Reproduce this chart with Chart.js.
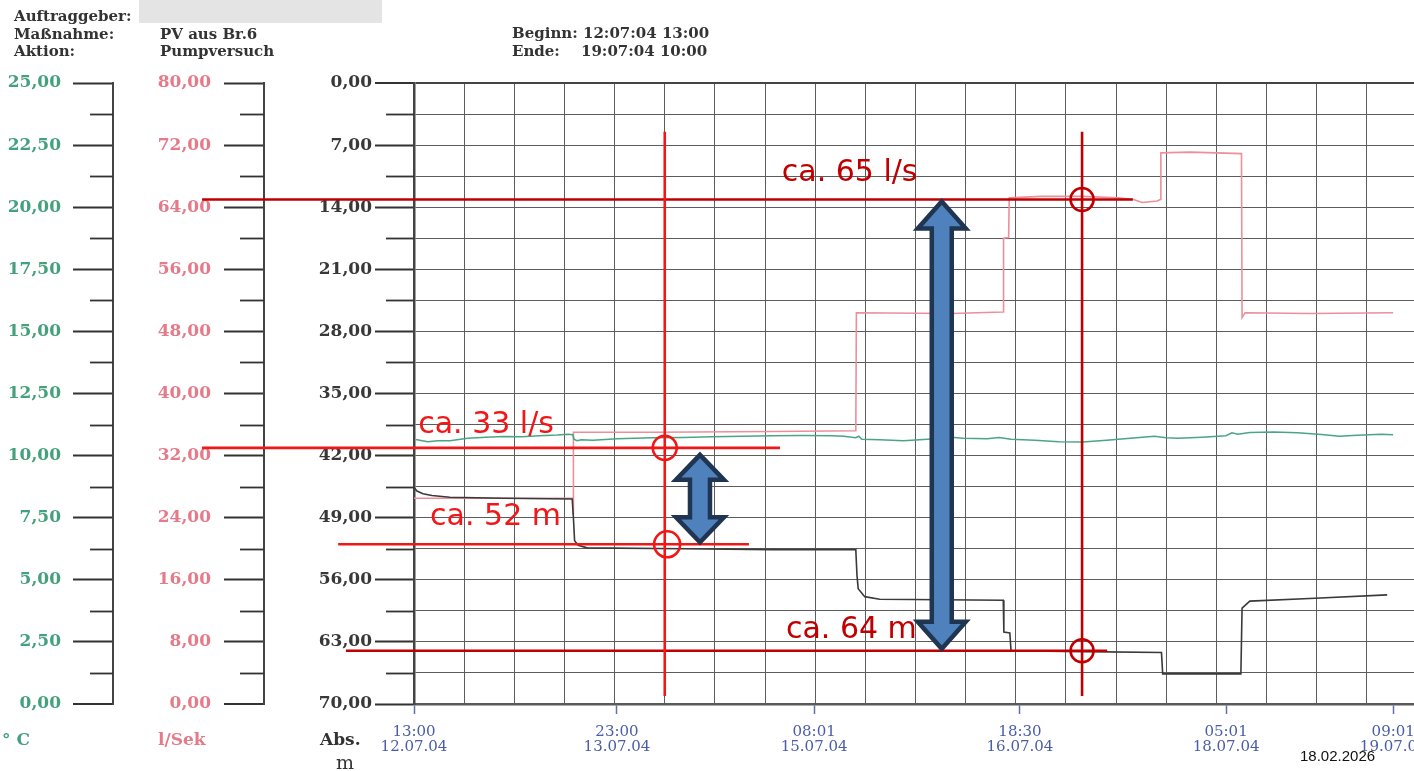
<!DOCTYPE html>
<html lang="de">
<head>
<meta charset="utf-8">
<title>PV aus Br.6 – Pumpversuch</title>
<script src="https://cdn.jsdelivr.net/npm/chart.js@4.4.1/dist/chart.umd.min.js"></script>
<style>
  html, body { margin: 0; padding: 0; width: 1414px; height: 771px; overflow: hidden; background: #fff; }
  #wrap { position: relative; width: 1414px; height: 771px; overflow: hidden; }
  #plot { position: absolute; left: 0; top: 0; }
  .t { position: absolute; white-space: pre; line-height: 1; transform: translateY(-50%); }
  .hdr { font: bold 15px "DejaVu Serif", serif; color: #333; }
  .unit { font: bold 17px "DejaVu Serif", serif; }
</style>
</head>
<body>
<div id="wrap">
  <canvas id="plot" width="1440" height="771"></canvas>

  <div style="position:absolute;left:139px;top:0;width:243px;height:23px;background:#e4e4e4"></div>
  <div class="t hdr" style="left:14px;top:16px">Auftraggeber:</div>
  <div class="t hdr" style="left:14px;top:34px">Maßnahme:</div>
  <div class="t hdr" style="left:14px;top:51px">Aktion:</div>
  <div class="t hdr" style="left:160px;top:34px">PV aus Br.6</div>
  <div class="t hdr" style="left:160px;top:51px">Pumpversuch</div>
  <div class="t hdr" style="left:512px;top:33px">Beginn: 12:07:04 13:00</div>
  <div class="t hdr" style="left:512px;top:51px">Ende:</div>
  <div class="t hdr" style="left:581px;top:51px">19:07:04 10:00</div>

  <div class="t unit" style="left:2px;top:739px;color:#45a07e">° C</div>
  <div class="t unit" style="left:158px;top:739px;color:#e57a88">l/Sek</div>
  <div class="t unit" style="left:320px;top:739px;color:#333">Abs.</div>
  <div class="t" style="left:336px;top:762px;font:19px 'DejaVu Serif',serif;color:#333">m</div>

  <div class="t" style="left:1300px;top:755px;font:15px 'Liberation Sans',sans-serif;color:#111">18.02.2026</div>
</div>

<script>
// Zeitachse: Stunden ab Beginn (12.07.04 13:00)
const TIME_MAX = 168;
const GRID_STEP_H = 8.4;
const TIME_TICKS = [0, 34, 67.02, 101.5, 136.02, 164.02];
const TIME_LABELS = [
  ['13:00', '12.07.04'],
  ['23:00', '13.07.04'],
  ['08:01', '15.07.04'],
  ['18:30', '16.07.04'],
  ['05:01', '18.07.04'],
  ['09:01', '19.07.04']
];

// Abstich in m
const LEVEL_T = [0, 0.5, 1.5, 3, 6, 15, 26.5, 26.7, 26.9, 27.5, 29, 45, 60, 74, 74.2, 74.4, 75.5, 78, 98.7, 98.8, 99.8, 100.0, 112, 125.2, 125.4, 138.5, 138.7, 140, 150, 163];
const LEVEL_M = [45.6, 46.0, 46.3, 46.5, 46.7, 46.8, 46.9, 49.0, 51.6, 52.1, 52.4, 52.5, 52.6, 52.6, 55.5, 57.0, 57.9, 58.2, 58.3, 61.9, 62.0, 64.0, 64.1, 64.2, 66.6, 66.6, 59.2, 58.4, 58.1, 57.7];

// Förderrate in l/s
const FLOW_T = [0, 26.6, 26.65, 26.7, 40, 60, 74.0, 74.1, 90, 98.7, 98.75, 99.6, 99.7, 105, 112, 118, 120.5, 122, 124.5, 125.0, 125.1, 130, 138.6, 138.7, 139.2, 150, 164];
const FLOW_LS = [26.5, 26.5, 24.5, 35.0, 35.0, 35.1, 35.2, 50.4, 50.3, 50.5, 60.0, 60.1, 65.2, 65.4, 65.4, 65.2, 65.0, 64.6, 64.8, 65.0, 71.0, 71.1, 70.9, 49.8, 50.4, 50.3, 50.4];

// Wassertemperatur in °C
const TEMP_T = [0.3, 2.3, 4, 6, 9, 12, 15, 18, 21, 24, 25.8, 26.6, 26.8, 27.3, 28, 30, 34, 40, 45, 50, 55, 60, 65, 70, 72, 74, 74.5, 75, 78, 82, 86, 90, 92, 96, 98, 100, 104, 108, 112, 116, 120, 124, 126, 128, 132, 136, 137, 138, 140, 144, 148, 152, 155, 158, 162, 164];
const TEMP_C = [10.65, 10.56, 10.60, 10.60, 10.70, 10.74, 10.77, 10.76, 10.80, 10.83, 10.86, 10.84, 10.66, 10.60, 10.64, 10.62, 10.68, 10.72, 10.73, 10.76, 10.78, 10.80, 10.81, 10.80, 10.78, 10.72, 10.78, 10.66, 10.64, 10.60, 10.66, 10.74, 10.70, 10.68, 10.73, 10.66, 10.62, 10.56, 10.55, 10.62, 10.70, 10.78, 10.72, 10.70, 10.74, 10.80, 10.92, 10.86, 10.93, 10.95, 10.92, 10.85, 10.78, 10.82, 10.86, 10.84];

// Achsen: [min, max, Beschriftungsschritt]
const TEMP_AXIS = [0, 25, 2.5];
const FLOW_AXIS = [0, 80, 8];
const LEVEL_AXIS = [0, 70, 7];

// Markierte Werte
const MARK_FLOW_HIGH = 65;
const MARK_FLOW_LOW = 33;
const MARK_LEVEL_LOW = 52;
const MARK_LEVEL_HIGH = 64;

const RED = '#f21616';
const DARK_RED = '#c00000';

const zip = (xs, ys) => xs.map((x, i) => ({ x, y: ys[i] }));
const fmt = v => v.toFixed(2).replace('.', ',');

function halfSteps(axis) {
  const [min, max, step] = axis;
  const out = [];
  const n = Math.round((max - min) / (step / 2));
  for (let i = 0; i <= n; i++) out.push({ value: min + i * step / 2 });
  return out;
}
const isMajor = (axis, v) => Math.abs((v - axis[0]) / axis[2] - Math.round((v - axis[0]) / axis[2])) < 1e-6;

function yAxis(axis, opts) {
  return {
    type: 'linear',
    position: 'left',
    min: axis[0],
    max: axis[1],
    reverse: !!opts.reverse,
    weight: opts.weight,
    afterBuildTicks: s => { s.ticks = halfSteps(axis); },
    afterFit: s => { s.width = opts.width; },
    ticks: {
      autoSkip: false,
      padding: opts.padding,
      color: opts.color,
      font: { family: 'DejaVu Serif', size: 17, weight: 'bold' },
      callback: v => isMajor(axis, v) ? fmt(v) : ''
    },
    grid: {
      drawOnChartArea: !!opts.chartGrid,
      drawTicks: true,
      tickLength: opts.tickLength,
      tickWidth: 1.8,
      tickColor: c => isMajor(axis, c.tick.value) ? '#333' : 'rgba(0,0,0,0)',
      color: c => (c.tick && c.tick.value === axis[0]) ? '#444' : '#5c5c5c',
      lineWidth: c => (c.tick && c.tick.value === axis[0]) ? 2 : 1
    },
    border: { display: true, color: '#444', width: opts.borderWidth || 2 },
    minorTickLength: opts.minorLength
  };
}

// kurze Zwischenstriche an den Skalen
const minorTicks = {
  id: 'minorTicks',
  afterDraw(chart) {
    const ctx = chart.ctx;
    ctx.save();
    ctx.strokeStyle = '#333';
    ctx.lineWidth = 1.8;
    [['yT', TEMP_AXIS], ['yQ', FLOW_AXIS], ['yAbs', LEVEL_AXIS]].forEach(([id, axis]) => {
      const s = chart.scales[id];
      const len = s.options.minorTickLength;
      s.ticks.forEach(t => {
        if (isMajor(axis, t.value)) return;
        const y = Math.round(s.getPixelForValue(t.value)) + 0.5;
        ctx.beginPath();
        ctx.moveTo(s.right - len, y);
        ctx.lineTo(s.right, y);
        ctx.stroke();
      });
    });
    ctx.restore();
  }
};

// rote Hilfslinien, Beschriftungen und Pfeile
const markings = {
  hLines: [
    { axis: 'yQ', value: MARK_FLOW_HIGH, t0: -35.5, t1: 120.4, color: DARK_RED },
    { axis: 'yQ', value: MARK_FLOW_LOW, t0: -35.5, t1: 61.3, color: RED },
    { axis: 'yAbs', value: MARK_LEVEL_LOW, t0: -12.7, t1: 56.1, color: RED },
    { axis: 'yAbs', value: MARK_LEVEL_HIGH, t0: -11.4, t1: 116.1, color: DARK_RED }
  ],
  vLines: [
    { t: 42.0, m0: 5.5, m1: 69.1, color: RED },
    { t: 111.9, m0: 5.5, m1: 69.1, color: DARK_RED }
  ],
  texts: [
    { text: 'ca. 65 l/s', t: 61.6, axis: 'yQ', value: MARK_FLOW_HIGH, dy: -26, color: DARK_RED },
    { text: 'ca. 33 l/s', t: 0.7, axis: 'yQ', value: MARK_FLOW_LOW, dy: -23, color: RED },
    { text: 'ca. 52 m', t: 2.7, axis: 'yAbs', value: MARK_LEVEL_LOW, dy: -27, color: RED },
    { text: 'ca. 64 m', t: 62.3, axis: 'yAbs', value: MARK_LEVEL_HIGH, dy: -21, color: DARK_RED }
  ],
  circles: [
    { t: 42.0, axis: 'yQ', value: MARK_FLOW_LOW, r: 12, color: RED },
    { t: 42.4, axis: 'yAbs', value: MARK_LEVEL_LOW, r: 13, color: RED },
    { t: 111.9, axis: 'yQ', value: MARK_FLOW_HIGH, r: 11.5, color: DARK_RED },
    { t: 111.9, axis: 'yAbs', value: MARK_LEVEL_HIGH, r: 11.5, color: DARK_RED }
  ],
  arrows: [
    { t: 47.9, top: ['yQ', MARK_FLOW_LOW, 7], bottom: ['yAbs', MARK_LEVEL_LOW, -2], head: 25 },
    { t: 88.4, top: ['yQ', MARK_FLOW_HIGH, 2], bottom: ['yAbs', MARK_LEVEL_HIGH, -2], head: 27 }
  ]
};

function drawArrow(ctx, cx, top, bottom, hl) {
  const hw = 24, sw = 10;
  ctx.beginPath();
  ctx.moveTo(cx, top);
  ctx.lineTo(cx + hw, top + hl);
  ctx.lineTo(cx + sw, top + hl);
  ctx.lineTo(cx + sw, bottom - hl);
  ctx.lineTo(cx + hw, bottom - hl);
  ctx.lineTo(cx, bottom);
  ctx.lineTo(cx - hw, bottom - hl);
  ctx.lineTo(cx - sw, bottom - hl);
  ctx.lineTo(cx - sw, top + hl);
  ctx.lineTo(cx - hw, top + hl);
  ctx.closePath();
  ctx.fillStyle = '#4f81bd';
  ctx.fill();
  ctx.lineJoin = 'miter';
  ctx.lineWidth = 4.5;
  ctx.strokeStyle = '#1f3552';
  ctx.stroke();
}

const markingsPlugin = {
  id: 'markings',
  afterDraw(chart) {
    const ctx = chart.ctx;
    const sx = chart.scales.x;
    const py = (id, v) => chart.scales[id].getPixelForValue(v);
    ctx.save();
    ctx.lineCap = 'butt';
    ctx.lineWidth = 2.6;
    markings.hLines.forEach(l => {
      const y = py(l.axis, l.value);
      ctx.strokeStyle = l.color;
      ctx.beginPath();
      ctx.moveTo(sx.getPixelForValue(l.t0), y);
      ctx.lineTo(sx.getPixelForValue(l.t1), y);
      ctx.stroke();
    });
    markings.vLines.forEach(l => {
      const x = sx.getPixelForValue(l.t);
      ctx.strokeStyle = l.color;
      ctx.beginPath();
      ctx.moveTo(x, py('yAbs', l.m0));
      ctx.lineTo(x, py('yAbs', l.m1));
      ctx.stroke();
    });
    ctx.font = '30px "DejaVu Sans", sans-serif';
    ctx.textBaseline = 'middle';
    ctx.textAlign = 'left';
    markings.texts.forEach(tx => {
      ctx.fillStyle = tx.color;
      ctx.fillText(tx.text, sx.getPixelForValue(tx.t), py(tx.axis, tx.value) + tx.dy);
    });
    markings.circles.forEach(c => {
      ctx.strokeStyle = c.color;
      ctx.beginPath();
      ctx.arc(sx.getPixelForValue(c.t), py(c.axis, c.value), c.r, 0, Math.PI * 2);
      ctx.stroke();
    });
    markings.arrows.forEach(a => {
      const top = py(a.top[0], a.top[1]) + a.top[2];
      const bottom = py(a.bottom[0], a.bottom[1]) + a.bottom[2];
      drawArrow(ctx, sx.getPixelForValue(a.t), top, bottom, a.head);
    });
    ctx.restore();
  }
};

new Chart(document.getElementById('plot'), {
  type: 'line',
  data: {
    datasets: [
      { label: 'Abstich', data: zip(LEVEL_T, LEVEL_M), yAxisID: 'yAbs', borderColor: '#3a3a3a', borderWidth: 1.6 },
      { label: 'Temperatur', data: zip(TEMP_T, TEMP_C), yAxisID: 'yT', borderColor: '#4aa682', borderWidth: 1.6 },
      { label: 'Förderrate', data: zip(FLOW_T, FLOW_LS), yAxisID: 'yQ', borderColor: '#ec8f9b', borderWidth: 1.6 }
    ]
  },
  options: {
    responsive: false,
    animation: false,
    devicePixelRatio: 1,
    events: [],
    layout: { padding: { left: 7, top: 83, right: 23, bottom: 6 } },
    elements: { point: { radius: 0 }, line: { tension: 0 } },
    plugins: { legend: { display: false }, tooltip: { enabled: false } },
    scales: {
      x: {
        type: 'linear',
        position: 'bottom',
        min: 0,
        max: TIME_MAX,
        weight: 2,
        afterBuildTicks: s => { s.ticks = TIME_TICKS.map(v => ({ value: v })); },
        afterFit: s => { s.paddingLeft = 0; s.paddingRight = 0; },
        ticks: {
          autoSkip: false,
          maxRotation: 0,
          padding: 10.5,
          color: '#4b5ca8',
          font: { family: 'DejaVu Serif', size: 15, lineHeight: 1 },
          callback: (v, i) => TIME_LABELS[i]
        },
        grid: { drawOnChartArea: false, drawTicks: true, tickLength: 10, tickWidth: 1.5, tickColor: '#5f6fb0' },
        border: { display: true, color: '#5a5a5a', width: 2.5 }
      },
      xg: {
        type: 'linear',
        position: 'bottom',
        min: 0,
        max: TIME_MAX,
        weight: 1,
        afterBuildTicks: s => {
          const t = [];
          for (let i = 0; i * GRID_STEP_H <= TIME_MAX + 1e-9; i++) t.push({ value: i * GRID_STEP_H });
          s.ticks = t;
        },
        afterFit: s => { s.paddingLeft = 0; s.paddingRight = 0; },
        ticks: { display: false },
        grid: { drawTicks: false, color: '#5c5c5c', lineWidth: 1 },
        border: { display: false }
      },
      yT: yAxis(TEMP_AXIS, { weight: 3, width: 106, padding: 12, tickLength: 40, minorLength: 23, color: '#45a07e' }),
      yQ: yAxis(FLOW_AXIS, { weight: 2, width: 151, padding: 13, tickLength: 40, minorLength: 24, color: '#e57a88' }),
      yAbs: yAxis(LEVEL_AXIS, { weight: 1, width: 150, padding: 3, tickLength: 39, minorLength: 28, color: '#383838', reverse: true, chartGrid: true, borderWidth: 2.5 })
    }
  },
  plugins: [minorTicks, markingsPlugin]
});
</script>
</body>
</html>
